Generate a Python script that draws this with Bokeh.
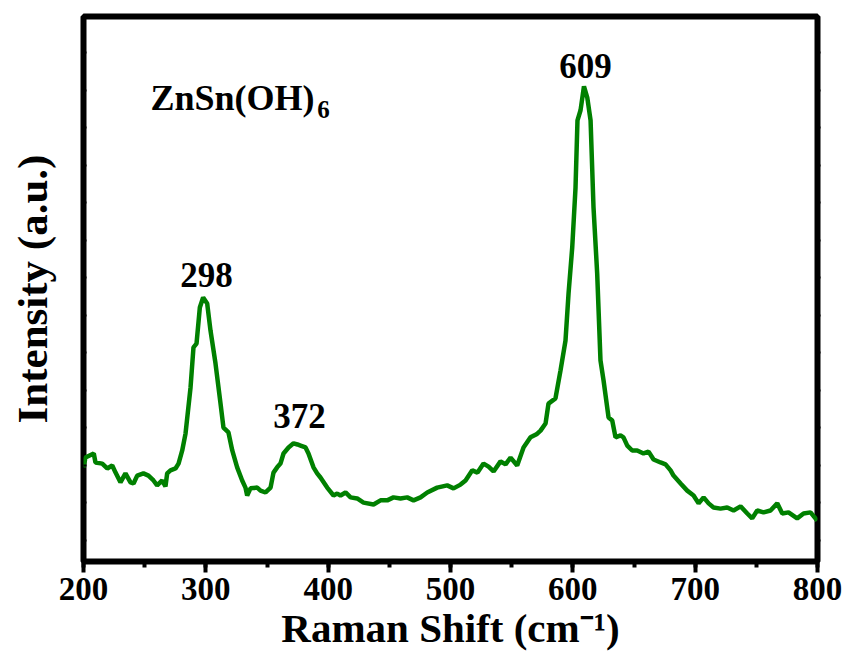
from bokeh.plotting import figure
from bokeh.models import Range1d, SingleIntervalTicker, FixedTicker, LinearAxis, Label
from bokeh.embed import file_html
from bokeh.resources import INLINE

# Raman shift (cm^-1) and intensity (a.u.)
shift = [200.0, 201.6, 208.4, 209.8, 215.3, 219.4, 223.5, 226.2, 230.2, 234.3,
         238.4, 240.9, 243.9, 249.0, 253.1, 257.2, 260.2, 264.3, 267.0, 268.4,
         271.1, 275.2, 277.7, 280.7, 283.4, 287.5, 289.9, 292.4, 295.1, 297.8,
         301.1, 303.8, 307.9, 312.0, 314.4, 318.5, 321.6, 325.6, 329.7, 332.4,
         333.8, 336.5, 342.0, 344.7, 348.8, 352.9, 355.3, 358.3, 361.0, 363.5,
         367.6, 371.7, 374.9, 377.4, 381.5, 383.9, 388.0, 391.0, 393.7, 399.2,
         404.4, 407.4, 410.1, 414.2, 418.3, 423.7, 428.9, 437.1, 442.8, 448.3,
         453.4, 459.1, 464.6, 469.8, 475.5, 481.0, 489.1, 497.3, 502.5, 508.2,
         512.3, 517.8, 522.1, 527.0, 531.1, 535.2, 540.9, 545.0, 549.1, 554.5,
         559.7, 565.4, 570.3, 573.6, 577.7, 580.1, 585.8, 589.9, 594.0, 596.5,
         599.5, 602.2, 603.8, 606.3, 609.1, 611.8, 614.5, 616.9, 619.9, 622.6,
         625.1, 629.2, 632.2, 634.9, 639.0, 641.4, 644.5, 648.5, 652.6, 657.8,
         661.9, 666.0, 671.7, 675.8, 679.9, 682.3, 688.1, 693.5, 698.7, 702.8,
         706.9, 711.0, 715.0, 720.7, 726.2, 731.4, 737.1, 742.6, 746.6, 750.7,
         755.9, 761.6, 767.1, 771.2, 776.3, 783.4, 788.6, 794.3, 799.8]
intensity = [1.95, 2.21, 2.32, 2.08, 2.05, 1.92, 2.00, 1.81, 1.55, 1.79,
             1.55, 1.52, 1.73, 1.79, 1.73, 1.60, 1.47, 1.60, 1.44, 1.79,
             1.87, 1.92, 2.05, 2.40, 2.85, 4.08, 5.15, 5.25, 6.21, 6.48,
             6.32, 5.60, 4.72, 3.65, 3.01, 2.88, 2.40, 1.95, 1.60, 1.41,
             1.20, 1.39, 1.41, 1.33, 1.28, 1.41, 1.81, 1.95, 2.05, 2.32,
             2.48, 2.59, 2.56, 2.53, 2.48, 2.32, 1.95, 1.79, 1.68, 1.41,
             1.20, 1.25, 1.20, 1.28, 1.15, 1.12, 1.01, 0.96, 1.07, 1.07,
             1.15, 1.12, 1.15, 1.07, 1.15, 1.28, 1.41, 1.47, 1.39, 1.49,
             1.60, 1.87, 1.81, 2.05, 1.97, 1.84, 2.11, 2.03, 2.21, 2.00,
             2.48, 2.75, 2.83, 2.93, 3.12, 3.65, 3.79, 4.53, 5.33, 6.59,
             7.81, 9.41, 11.20, 11.47, 12.11, 11.81, 11.20, 8.88, 7.12, 4.80,
             4.27, 3.28, 3.20, 2.75, 2.80, 2.75, 2.53, 2.40, 2.40, 2.32,
             2.37, 2.16, 2.08, 2.03, 1.87, 1.73, 1.52, 1.33, 1.20, 0.99,
             1.15, 0.99, 0.88, 0.85, 0.88, 0.80, 0.91, 0.72, 0.59, 0.80,
             0.75, 0.80, 0.99, 0.72, 0.75, 0.59, 0.72, 0.75, 0.53]

peak_labels = ["298", "372", "609"]
peak_label_x = [300.5, 376.6, 610.4]
peak_label_y = [7.07, 3.31, 12.64]
sample_name = "ZnSn(OH)"
sample_sub = "6"
x_label = "Raman Shift (cm\u207b\u00b9)"
y_label = "Intensity (a.u.)"

FONT = "Liberation Serif"

p = figure(width=845, height=668, output_backend="svg", toolbar_location=None,
           x_range=Range1d(200, 800), y_range=Range1d(-0.56, 13.97),
           min_border_left=83, min_border_right=28, min_border_top=16,
           min_border_bottom=107)
p.grid.visible = False
p.outline_line_color = "black"
p.outline_line_width = 6
p.background_fill_color = "white"
p.border_fill_color = "white"

p.line(shift, intensity, line_color="#008000", line_width=4.5)

xa = p.xaxis[0]
xa.ticker = SingleIntervalTicker(interval=100, num_minor_ticks=2)
xa.axis_line_color = None
xa.major_tick_line_width = 4
xa.major_tick_out = 11
xa.major_tick_in = 0
xa.minor_tick_line_width = 4
xa.minor_tick_out = 6
xa.minor_tick_in = 0
xa.major_label_text_font = FONT
xa.major_label_text_font_style = "bold"
xa.major_label_text_font_size = "33px"
xa.major_label_text_color = "black"
xa.major_label_standoff = 5
xa.axis_label = x_label
xa.axis_label_text_font = FONT
xa.axis_label_text_font_style = "bold"
xa.axis_label_text_font_size = "41px"
xa.axis_label_text_color = "black"
xa.axis_label_standoff = 2

ya = p.yaxis[0]
ya.ticker = FixedTicker(ticks=list(range(0, 14)))
ya.axis_line_color = None
ya.major_tick_in = 3
ya.major_tick_out = 0
ya.major_tick_line_width = 2
ya.minor_tick_line_color = None
ya.major_label_text_font_size = "0px"
ya.major_label_text_color = None
ya.axis_label = y_label
ya.axis_label_text_font = FONT
ya.axis_label_text_font_style = "bold"
ya.axis_label_text_font_size = "43px"
ya.axis_label_text_color = "black"
ya.axis_label_standoff = 28

ra = LinearAxis(ticker=FixedTicker(ticks=list(range(0, 14))))
ra.axis_line_color = None
ra.major_tick_in = 0
ra.major_tick_out = 3
ra.major_tick_line_width = 2
ra.minor_tick_line_color = None
ra.major_label_text_color = None
ra.major_label_text_font_size = "0px"
p.add_layout(ra, "right")

for t, x, y in zip(peak_labels, peak_label_x, peak_label_y):
    p.add_layout(Label(x=x, y=y, text=t, text_align="center", text_baseline="alphabetic",
                       text_font=FONT, text_font_style="bold", text_font_size="35px",
                       text_color="black"))

p.add_layout(Label(x=254.8, y=11.81, text=sample_name, text_align="left",
                   text_baseline="alphabetic", text_font=FONT, text_font_style="bold",
                   text_font_size="36px", text_color="black"))
p.add_layout(Label(x=391.0, y=11.50, text=sample_sub, text_align="left",
                   text_baseline="alphabetic", text_font=FONT, text_font_style="bold",
                   text_font_size="25px", text_color="black"))

open("out.html", "w").write(file_html(p, INLINE))
